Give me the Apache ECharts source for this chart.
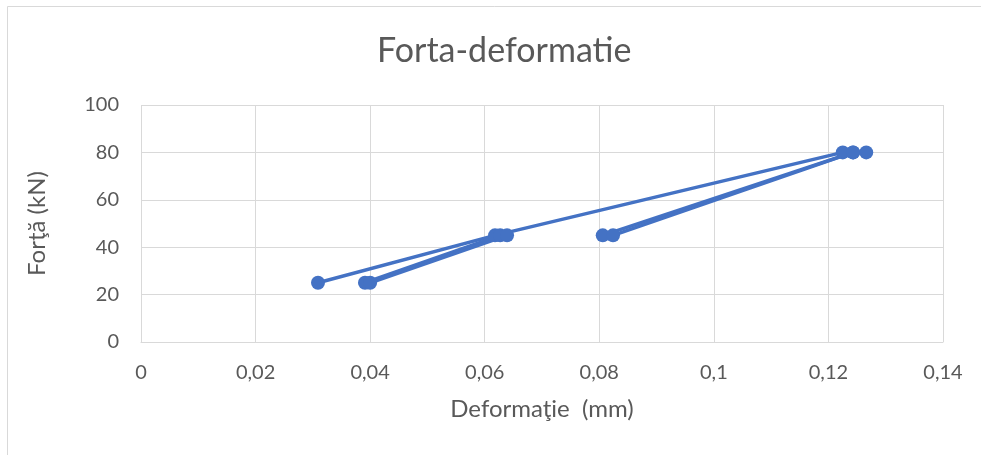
<!DOCTYPE html>
<html>
<head>
<meta charset="utf-8">
<title>Forta-deformatie</title>
<script src="https://cdn.jsdelivr.net/npm/echarts@6/dist/echarts.min.js"></script>
<style>
  html, body { margin: 0; padding: 0; background: #fff; }
  #chart { width: 981px; height: 455px; }
</style>
</head>
<body>
<div id="chart"></div>
<script>
// deformatie (mm) / forta (kN) pairs, one array per drawn path
const firstLoading = [[0.0309, 25], [0.0618, 45], [0.1225, 80]];
const reloadA = [[0.0391, 25], [0.0627, 45]];
const reloadB = [[0.0400, 25], [0.0639, 45]];
const upperA = [[0.0806, 45], [0.1243, 80]];
const upperB = [[0.0824, 45], [0.1243, 80], [0.1266, 80]];
const paths = [firstLoading, reloadA, reloadB, upperA, upperB];

const xTicks = { min: 0, max: 0.14, interval: 0.02 };
const yTicks = { min: 0, max: 100, interval: 20 };

const blue = "#4472C4";
const grey = "#595959";
const font = "Lato, 'Noto Sans', sans-serif";

const chart = echarts.init(document.getElementById("chart"));

const option = {
  animation: false,
  backgroundColor: "#fff",
  title: {
    text: "Forta-deformatie",
    left: 372,
    top: 29,
    textStyle: { fontFamily: font, fontSize: 34, fontWeight: "normal", color: grey },
  },
  grid: { left: 141, right: 38, top: 105, bottom: 113 },
  xAxis: {
    type: "value",
    min: xTicks.min,
    max: xTicks.max,
    interval: xTicks.interval,
    name: "Deformaţie  (mm)",
    nameLocation: "middle",
    nameGap: 55,
    nameTextStyle: { fontFamily: font, fontSize: 24, color: grey },
    axisLine: { show: true, lineStyle: { color: "#d9d9d9", width: 1 } },
    axisTick: { show: false },
    axisLabel: {
      margin: 21,
      fontFamily: font,
      fontSize: 20,
      color: grey,
      formatter: (v) => String(+v.toFixed(2)).replace(".", ","),
    },
    splitLine: { show: true, lineStyle: { color: "#d9d9d9", width: 1 } },
  },
  yAxis: {
    type: "value",
    min: yTicks.min,
    max: yTicks.max,
    interval: yTicks.interval,
    name: "Forţă (kN)",
    nameLocation: "middle",
    nameGap: 92,
    nameRotate: 90,
    nameTextStyle: { fontFamily: font, fontSize: 24, color: grey },
    axisLine: { show: false },
    axisTick: { show: false },
    axisLabel: { margin: 22, fontFamily: font, fontSize: 20, color: grey },
    splitLine: { show: true, lineStyle: { color: "#d9d9d9", width: 1 } },
  },
  graphic: [
    {
      type: "rect",
      shape: { x: 7.5, y: 6.5, width: 1000, height: 500 },
      style: { fill: "none", stroke: "#d9d9d9", lineWidth: 1 },
      silent: true,
    },
  ],
  series: paths.map((p) => ({
    type: "line",
    data: p,
    symbol: "circle",
    symbolSize: 14,
    showSymbol: true,
    itemStyle: { color: blue },
    lineStyle: { color: blue, width: 3.5 },
  })),
};

chart.setOption(option);
</script>
</body>
</html>
